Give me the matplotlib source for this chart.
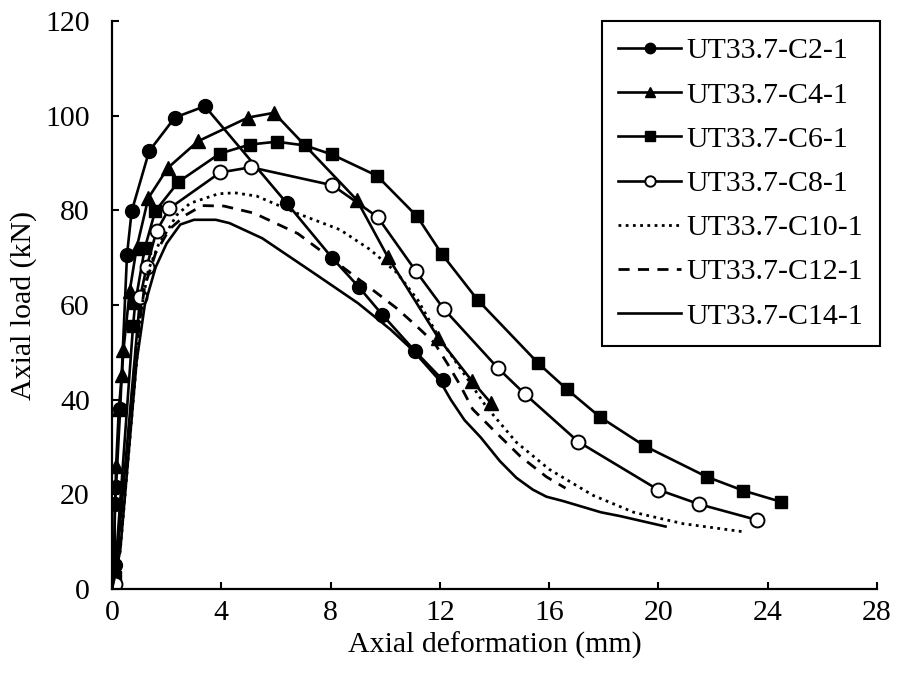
import matplotlib
matplotlib.use("Agg")
import matplotlib.pyplot as plt

plt.rcParams['font.family'] = ['Liberation Serif', 'DejaVu Serif']

# ---- data (x = axial deformation mm, y = axial load kN) ----
c2_x = [0, 0.03, 0.1, 0.1, 0.15, 0.3, 0.55, 0.72, 1.36, 2.3, 3.4, 6.4, 8.05, 9.05, 9.9, 11.1, 12.1]
c2_y = [0, 1.5, 5, 18, 21.6, 38, 70.6, 79.8, 92.5, 99.6, 102, 81.5, 70, 63.7, 57.9, 50.2, 44.2]

c4_x = [0, 0.05, 0.15, 0.25, 0.36, 0.42, 0.65, 0.9, 1.33, 2.05, 3.15, 4.98, 5.93, 8.96, 10.1, 11.95, 13.17, 13.87]
c4_y = [0, 3, 26, 38, 45.2, 50.5, 63, 72, 82.6, 89, 94.6, 99.6, 100.6, 82.2, 70.1, 53, 44, 39.3]

c6_x = [0, 0.05, 0.1, 0.77, 0.85, 1.2, 1.58, 2.43, 3.95, 5.05, 6.03, 7.07, 8.05, 9.7, 11.17,
        12.07, 13.38, 15.6, 16.65, 17.87, 19.5, 21.77, 23.1, 24.5]
c6_y = [0, 1, 2.5, 55.5, 60.4, 72, 79.8, 86, 92, 93.9, 94.5, 93.7, 91.8, 87.3, 78.7,
        70.8, 61.1, 47.7, 42.2, 36.3, 30.2, 23.7, 20.8, 18.4]

c8_x = [0, 0.1, 1.03, 1.27, 1.63, 2.1, 3.96, 5.08, 8.07, 9.72, 11.13, 12.14, 14.12, 15.13,
        17.07, 19.98, 21.5, 23.6]
c8_y = [0, 1, 61.6, 68.1, 75.6, 80.4, 88, 89.1, 85.3, 78.6, 67.1, 59.2, 46.7, 41.1,
        31.1, 21, 17.9, 14.6]

c10_x = [0, 0.3, 0.6, 0.9, 1.1, 1.33, 1.7, 2.06, 2.37, 2.86, 3.9, 4.5, 5.3, 6.76, 8.35, 9.45,
         10.43, 11.2, 11.95, 13.0, 13.7, 14.8, 16.0, 17.6, 19.1, 20.9, 23.1]
c10_y = [0, 8, 28, 48, 60, 67.4, 72.7, 76, 79, 81.5, 83.5, 83.7, 83, 79.4, 75.9, 71.7,
         66.8, 61, 53.3, 44.5, 38.5, 31, 25.3, 19.8, 16.2, 13.8, 12.1]

c12_x = [0, 0.3, 0.6, 0.9, 1.2, 1.6, 2.1, 2.7, 3.3, 4.1, 5.2, 6.8, 8.1, 9.2, 10.4, 11.1, 11.8,
         12.3, 12.75, 13.2, 13.96, 14.95, 15.9, 16.6]
c12_y = [0, 10, 32, 52, 64, 71, 76, 79, 81, 80.9, 79.4, 75.1, 69.5, 64.7, 59.4, 55.8, 52,
         47.4, 43, 38, 33.6, 28, 23.7, 21.3]

c14_x = [0, 0.3, 0.6, 0.9, 1.2, 1.6, 2.0, 2.5, 3.0, 3.8, 4.3, 5.5, 7.4, 9.0, 10.2, 11.0, 12.0,
         12.4, 12.9, 13.5, 14.2, 14.8, 15.4, 15.9, 16.5, 17.9, 18.6, 20.26]
c14_y = [0, 8, 28, 48, 60, 68, 73, 77, 78, 78, 77.3, 74.1, 66.7, 60.4, 54.8, 50.5, 44,
         40, 35.7, 32, 27, 23.5, 21, 19.5, 18.6, 16.2, 15.4, 13.2]

labels = ['UT33.7-C2-1', 'UT33.7-C4-1', 'UT33.7-C6-1', 'UT33.7-C8-1',
          'UT33.7-C10-1', 'UT33.7-C12-1', 'UT33.7-C14-1']
x_ticks = [0, 4, 8, 12, 16, 20, 24, 28]
y_ticks = [0, 20, 40, 60, 80, 100, 120]

fig = plt.figure(figsize=(8.98, 6.84), dpi=100)
ax = fig.add_axes([0.1247, 0.1389, 0.8519, 0.8304])

lw = 1.9
ax.plot(c2_x, c2_y, color='black', lw=lw, marker='o', ms=10, label=labels[0])
ax.plot(c4_x, c4_y, color='black', lw=lw, marker='^', ms=10, label=labels[1])
ax.plot(c6_x, c6_y, color='black', lw=lw, marker='s', ms=9, label=labels[2])
ax.plot(c8_x, c8_y, color='black', lw=lw, marker='o', ms=10, mfc='white', mew=1.4, label=labels[3])
ax.plot(c10_x, c10_y, color='black', lw=2.0, ls=(0, (1, 1.6)), label=labels[4])
ax.plot(c12_x, c12_y, color='black', lw=2.0, ls=(0, (4, 3)), label=labels[5])
ax.plot(c14_x, c14_y, color='black', lw=lw, label=labels[6])

ax.set_xlim(0, 28)
ax.set_ylim(0, 120)
ax.set_xticks(x_ticks)
ax.set_yticks(y_ticks)
ax.tick_params(direction='in', length=5, width=1.5, labelsize=21.5)
ax.tick_params(axis='y', pad=16)
ax.tick_params(axis='x', pad=8)

ax.spines['top'].set_visible(False)
ax.spines['right'].set_visible(False)
ax.spines['left'].set_linewidth(1.6)
ax.spines['bottom'].set_linewidth(1.6)

ax.set_xlabel('Axial deformation (mm)', fontsize=21.5, labelpad=4)
ax.set_ylabel('Axial load (kN)', fontsize=21.5, labelpad=6)

leg = ax.legend(loc='upper right', bbox_to_anchor=(880 / 898, 1 - 21 / 684),
                bbox_transform=fig.transFigure, fontsize=21.5, frameon=True,
                fancybox=False, edgecolor='black', framealpha=1, borderaxespad=0,
                handlelength=2.1, handletextpad=0.2, labelspacing=0.58,
                borderpad=0.55, markerscale=0.75)
leg.get_frame().set_linewidth(1.5)

fig.savefig('out.png', dpi=100, facecolor='white')
